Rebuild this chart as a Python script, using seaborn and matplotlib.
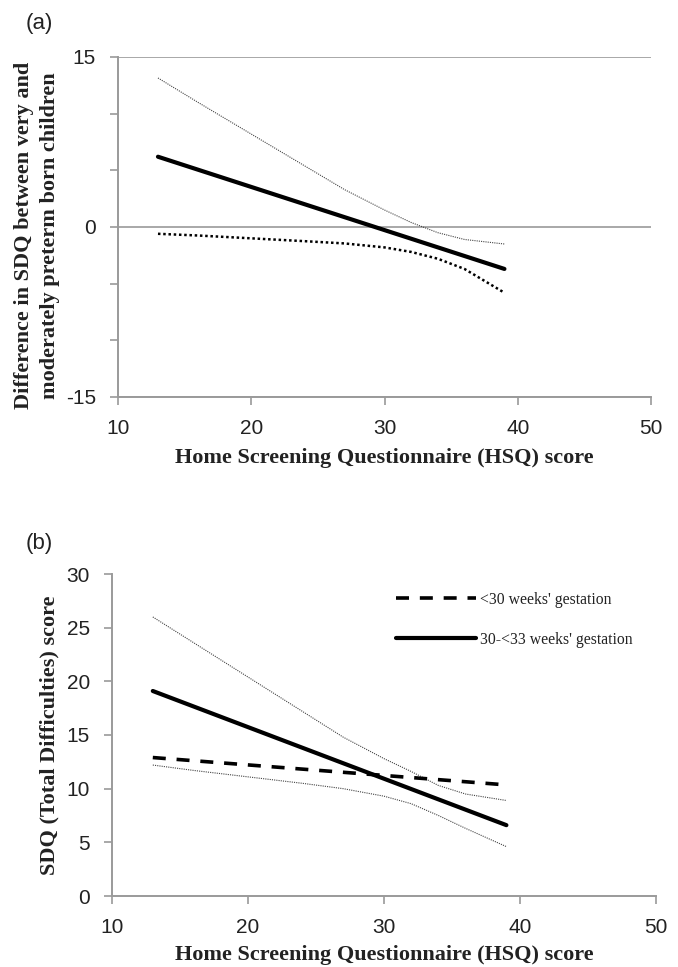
import matplotlib
matplotlib.use("Agg")
import matplotlib.pyplot as plt
import seaborn as sns
import pandas as pd

# ---------------- data ----------------
hsq_line = [13, 39]
diff_est = [6.2, -3.7]
hsq_ci = [13, 16, 20, 24, 27, 30, 32, 34, 36, 39]
diff_upper = [13.15, 11.0, 8.2, 5.4, 3.3, 1.5, 0.4, -0.5, -1.1, -1.5]
diff_lower = [-0.6, -0.75, -1.0, -1.25, -1.45, -1.8, -2.2, -2.8, -3.7, -5.8]

sdq_very = [12.9, 10.35]      # <30 weeks' gestation
sdq_moderate = [19.1, 6.6]    # 30-<33 weeks' gestation
sdq_upper = [26.0, 23.6, 20.4, 17.2, 14.8, 12.8, 11.6, 10.3, 9.5, 8.9]
sdq_lower = [12.2, 11.7, 11.1, 10.5, 10.0, 9.3, 8.6, 7.5, 6.3, 4.6]

group_labels = ["<30 weeks' gestation", "30-<33 weeks' gestation"]
x_ticks = [10, 20, 30, 40, 50]
ya_major = [-15, 0, 15]
ya_minor = [-10, -5, 5, 10]
yb_ticks = [0, 5, 10, 15, 20, 25, 30]

xlabel = "Home Screening Questionnaire (HSQ) score"
ylabel_a = "Difference in SDQ between very and\nmoderately preterm born children"
ylabel_b = "SDQ (Total Difficulties) score"

# ---------------- style ----------------
sns.set_style("ticks")
plt.rcParams["font.family"] = ["Liberation Sans", "DejaVu Sans"]
plt.rcParams["axes.unicode_minus"] = False
SERIF = ["Liberation Serif", "DejaVu Serif"]
GREY = "#9a9a9a"
TXT = "#222222"

fig = plt.figure(figsize=(6.78, 9.67), dpi=100)
ax_a = fig.add_axes([118 / 678, 1 - 397 / 967, 533 / 678, 340 / 967])
ax_b = fig.add_axes([112 / 678, 1 - 896 / 967, 544 / 678, 322 / 967])

main_kw = dict(color="black", linewidth=3.0, solid_capstyle="round", errorbar=None)
thin_kw = dict(color="#444444", linewidth=0.8, linestyle=(0, (1, 1)), errorbar=None)

# ---------------- panel (a) ----------------
sns.lineplot(x=hsq_ci, y=diff_upper, ax=ax_a, **thin_kw)
sns.lineplot(x=hsq_ci, y=diff_lower, ax=ax_a, color="black", linewidth=1.8,
             linestyle=(0, (1, 1.1)), errorbar=None)
sns.lineplot(x=hsq_line, y=diff_est, ax=ax_a, **main_kw)

ax_a.set_xlim(10, 50)
ax_a.set_ylim(-15, 15)
ax_a.set_xticks(x_ticks)
ax_a.set_yticks(ya_major)
ax_a.set_yticks(ya_minor, minor=True)
ax_a.yaxis.grid(True, which="major", color=GREY, linewidth=1.2)
ax_a.set_axisbelow(True)

# ---------------- panel (b) ----------------
sns.lineplot(x=hsq_ci, y=sdq_upper, ax=ax_b, **thin_kw)
sns.lineplot(x=hsq_ci, y=sdq_lower, ax=ax_b, **thin_kw)
sns.lineplot(x=hsq_line, y=sdq_very, ax=ax_b, color="black", linewidth=2.6,
             linestyle=(0, (3.6, 3.0)), errorbar=None, label=group_labels[0])
sns.lineplot(x=hsq_line, y=sdq_moderate, ax=ax_b, label=group_labels[1], **main_kw)

ax_b.set_xlim(10, 50)
ax_b.set_ylim(0, 30)
ax_b.set_xticks(x_ticks)
ax_b.set_yticks(yb_ticks)

leg = ax_b.legend(loc="upper left", bbox_to_anchor=(0.51, 0.965), frameon=False,
                  handlelength=5.1, labelspacing=1.55, handletextpad=0.3,
                  borderaxespad=0, prop={"family": SERIF, "size": 11.3})
for t in leg.get_texts():
    t.set_color(TXT)

# ---------------- common formatting ----------------
for ax in (ax_a, ax_b):
    for side in ("top", "right"):
        ax.spines[side].set_visible(False)
    for side in ("left", "bottom"):
        ax.spines[side].set_color(GREY)
        ax.spines[side].set_linewidth(1.4)
    ax.tick_params(which="both", direction="out", length=6, width=1.2,
                   color=GREY, labelsize=15, labelcolor=TXT, pad=10)
    ax.set_xlabel(xlabel, family=SERIF, fontweight="bold", fontsize=16, color=TXT)

ax_a.xaxis.set_label_coords(0.5, -0.150)
ax_b.xaxis.set_label_coords(0.5, -0.152)

ax_a.set_ylabel(ylabel_a, family=SERIF, fontweight="bold", fontsize=16,
                color=TXT, linespacing=1.35, ha="center", va="center")
ax_a.yaxis.set_label_coords(-0.152, 0.475)
ax_b.set_ylabel(ylabel_b, family=SERIF, fontweight="bold", fontsize=16,
                color=TXT, ha="center", va="center")
ax_b.yaxis.set_label_coords(-0.115, 0.5)

fig.text(39 / 678, 1 - 23 / 967, "(a)", fontsize=16, ha="center", va="center",
         color=TXT)
fig.text(39 / 678, 1 - 543 / 967, "(b)", fontsize=16, ha="center", va="center",
         color=TXT)

fig.savefig("out.png", dpi=100, facecolor="white")
